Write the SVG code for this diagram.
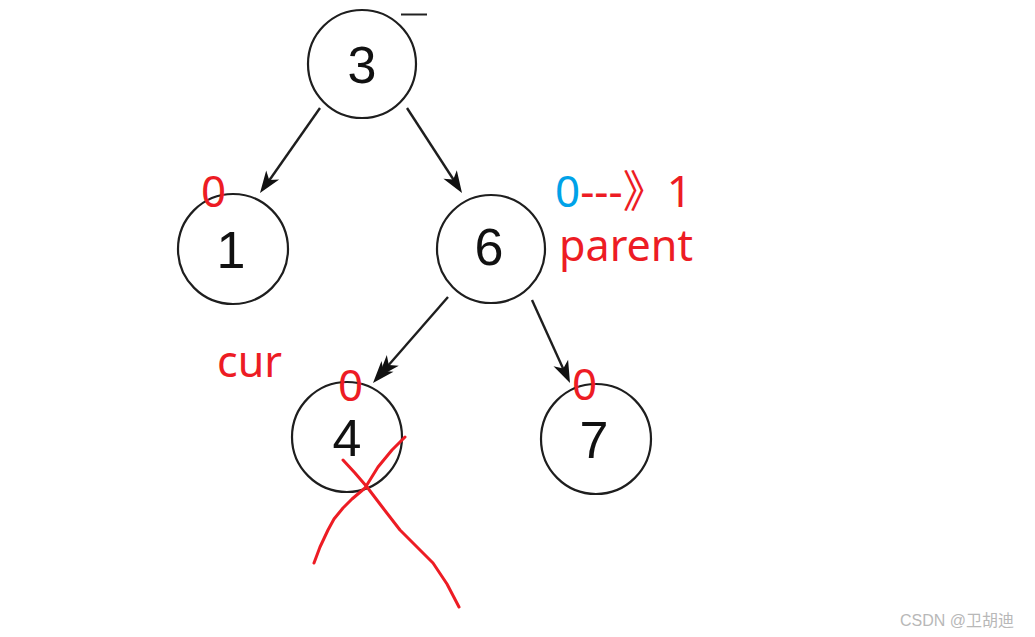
<svg xmlns="http://www.w3.org/2000/svg" width="1035" height="637" viewBox="0 0 1035 637">
<style>
.node circle{fill:#fff;stroke:#1e1e1e;stroke-width:2.2}
.node text{font-family:"Liberation Sans",Arial,sans-serif;font-size:52px;fill:#111;text-anchor:middle}
.edge{stroke:#1e1e1e;stroke-width:2.4;fill:none}
.head{fill:#111}
.red{font-family:"Noto Sans","Liberation Sans","Noto Sans CJK SC",sans-serif;font-size:44px;fill:#ed1c24}
.blue{fill:#00a2e8}
.cross{stroke:#ed1c24;stroke-width:3;fill:none;stroke-linecap:round;stroke-linejoin:round}
.wm{font-family:"Liberation Sans","Noto Sans CJK SC",sans-serif;font-size:16px;fill:#b8b8b8}
</style>
<rect width="1035" height="637" fill="#fff"/>
<line x1="401" y1="14.5" x2="427" y2="14.5" stroke="#222" stroke-width="2"/>
<g id="connectors">
<line class="edge" x1="320" y1="108" x2="266" y2="185"/>
<path class="head" d="M260,193 L266.2,170.4 L269.2,179.9 L279.2,179.6 Z"/>
<line class="edge" x1="407" y1="108" x2="457" y2="185"/>
<path class="head" d="M462,193 L443.4,178.8 L453.3,179.6 L456.8,170.2 Z"/>
<line class="edge" x1="448" y1="297" x2="380" y2="375"/>
<path class="head" d="M373,383 L381.5,361.1 L383.5,370.9 L393.5,371.7 Z"/>
<path class="head" d="M378.3,377 L386.8,355.1 L388.8,364.9 L398.8,365.7 Z"/>
<line class="edge" x1="532" y1="300" x2="566" y2="375"/>
<path class="head" d="M570,383 L553.5,366.3 L563.3,368.5 L568.1,359.7 Z"/>
</g>
<g id="node3" class="node"><circle cx="362" cy="64" r="54"/><text x="362" y="83">3</text></g>
<g id="node1" class="node"><circle cx="233" cy="249" r="55"/><text x="231" y="268">1</text></g>
<g id="node6" class="node"><circle cx="491" cy="249" r="54"/><text x="489" y="265">6</text></g>
<g id="node4" class="node"><circle cx="347" cy="437" r="55"/><text x="347" y="456">4</text></g>
<g id="node7" class="node"><circle cx="596" cy="439" r="55"/><text x="594" y="458">7</text></g>
<g id="labels">
<text class="red" x="201" y="207">0</text>
<text class="red" x="338" y="401">0</text>
<text class="red" x="572" y="400">0</text>
<text class="red" x="555" y="207"><tspan class="blue">0</tspan>---》1</text>
<text class="red" x="559" y="261" textLength="134" lengthAdjust="spacingAndGlyphs">parent</text>
<text class="red" x="217" y="377" textLength="65" lengthAdjust="spacingAndGlyphs">cur</text>
</g>
<g id="cross">
<polyline class="cross" points="343,460 355,473 367,487 383,508 400,530 417,547 433,563 447,584 459,607"/>
<polyline class="cross" points="405,437 392,450 378,467 365,488 352,499 343,508 334,519 328,530 320,547 314,563"/>
</g>
<text class="wm" x="900" y="626">CSDN @卫胡迪</text>
</svg>
